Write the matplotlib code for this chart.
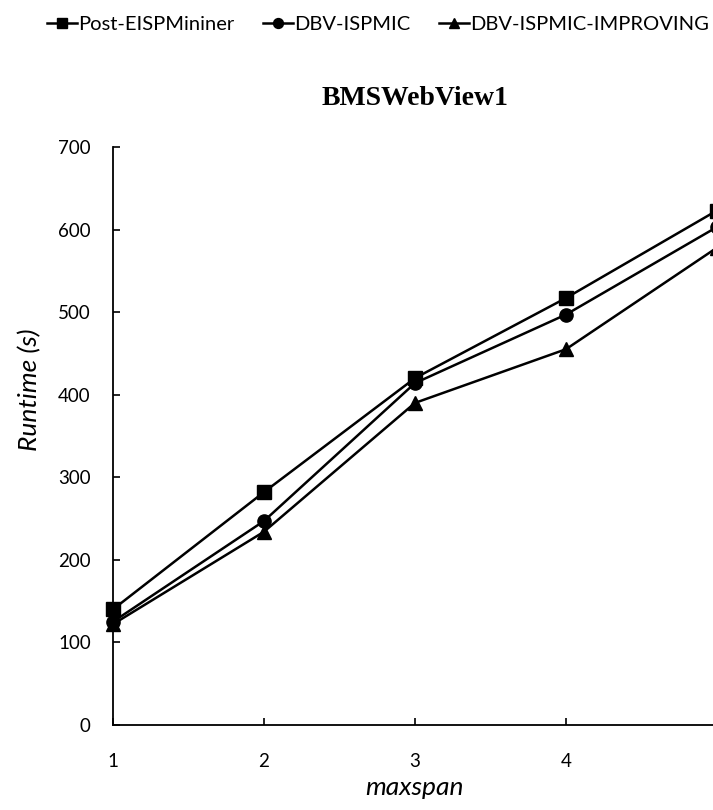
import matplotlib.pyplot as plt

# runtime per maxspan setting, BMSWebView1 dataset
maxspan = [1, 2, 3, 4, 5]
post_eisp = [140, 282, 420, 517, 623]
dbv_ispmic = [125, 247, 414, 497, 603]
dbv_improving = [122, 234, 390, 455, 578]

series = [
    ('Post-EISPMininer', post_eisp, 's'),
    ('DBV-ISPMIC', dbv_ispmic, 'o'),
    ('DBV-ISPMIC-IMPROVING', dbv_improving, '^'),
]

plt.rcParams['font.family'] = ['Lato', 'DejaVu Sans']

fig = plt.figure(figsize=(7.13, 8.10), dpi=100)
ax = fig.add_axes([0.1585, 0.105, 0.847, 0.7136])

for name, values, marker in series:
    ax.plot(maxspan, values, color='black', linewidth=1.8, marker=marker,
            markersize=9.5, label=name, clip_on=False)

ax.set_xlim(1, 5)
ax.set_ylim(0, 700)
ax.set_xticks(maxspan)
ax.set_yticks(range(0, 701, 100))
ax.tick_params(axis='y', direction='in', length=5, width=1.2, labelsize=13.5, pad=16)
ax.tick_params(axis='x', direction='in', length=5, width=1.2, labelsize=13.5, pad=20)

for side in ['top', 'right']:
    ax.spines[side].set_visible(False)
for side in ['left', 'bottom']:
    ax.spines[side].set_linewidth(1.3)

ax.set_xlabel('maxspan', fontsize=19, style='italic')
ax.xaxis.set_label_coords(0.5, -0.088)
ax.set_ylabel('Runtime (s)', fontsize=19, style='italic')
ax.yaxis.set_label_coords(-0.118, 0.58)
ax.set_title('BMSWebView1', fontsize=20, fontweight='bold',
             family='Liberation Serif', pad=30)

fig.legend(loc='upper center', bbox_to_anchor=(0.53, 1.003), ncol=3, frameon=False,
           fontsize=14.5, handlelength=1.5, columnspacing=1.4, handletextpad=0.05,
           markerscale=0.75)

plt.savefig('out.png', dpi=100)
plt.close()
